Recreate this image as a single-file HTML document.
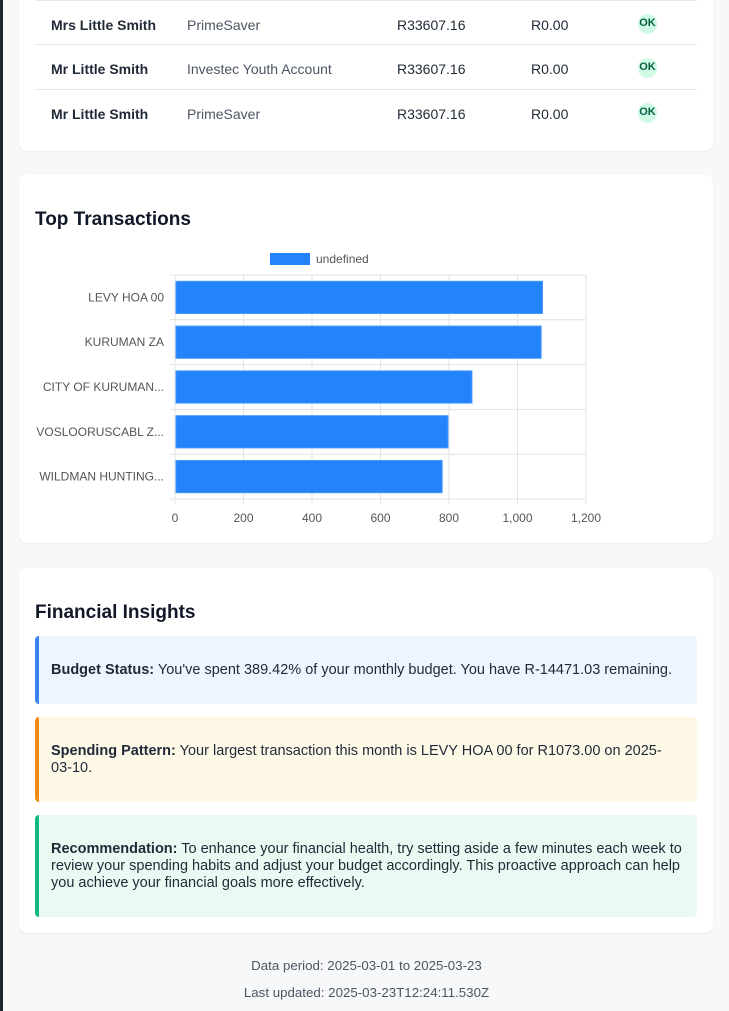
<!DOCTYPE html>
<html><head><meta charset="utf-8">
<style>
*{box-sizing:border-box;margin:0;padding:0}
body{width:729px;height:1011px;background:#f7f8fa;font-family:"Liberation Sans",sans-serif;color:#1f2937;position:relative;overflow:hidden}
.strip{position:absolute;left:0;top:0;width:3px;height:1011px;background:#1e2430}
.card{position:absolute;left:19px;width:694px;background:#fff;border-radius:8px;box-shadow:0 1px 2px rgba(0,0,0,0.06)}
.row{position:absolute;left:16px;width:662px;height:45px;border-bottom:1px solid #e5e7eb;font-size:14px}
.row span{position:absolute;top:16px}
.c1{left:16px;font-weight:bold;color:#1f2937}
.c2{left:152px;color:#4b5563}
.c3{left:362px;color:#1f2937}
.c4{left:496px;color:#1f2937}
.ok{left:603px;top:13px!important;width:19px;height:20px;border-radius:10px;background:#d1fae5;color:#065f46;font-size:11px;font-weight:bold;text-align:center;line-height:18px}
h2{position:absolute;left:16px;font-size:19px;font-weight:bold;color:#111827}
.box{position:absolute;left:16px;width:662px;border-left:4px solid;border-radius:4px;padding:0 12px;font-size:14.5px;line-height:17px;color:#1f2937;display:flex;align-items:center}
.foot{position:absolute;left:0;width:733px;text-align:center;font-size:13.3px;color:#4b5563}
</style></head><body>
<div class="strip"></div>

<div class="card" style="top:-10px;height:161px">
  <div class="row" style="top:10px;border-top:1px solid #e5e7eb"><span class="c1">Mrs Little Smith</span><span class="c2">PrimeSaver</span><span class="c3">R33607.16</span><span class="c4">R0.00</span><span class="ok">OK</span></div>
  <div class="row" style="top:55px"><span class="c1">Mr Little Smith</span><span class="c2">Investec Youth Account</span><span class="c3">R33607.16</span><span class="c4">R0.00</span><span class="ok">OK</span></div>
  <div class="row" style="top:100px;border-bottom:none"><span class="c1">Mr Little Smith</span><span class="c2">PrimeSaver</span><span class="c3">R33607.16</span><span class="c4">R0.00</span><span class="ok">OK</span></div>
</div>

<div class="card" style="top:175px;height:368px">
  <h2 style="top:34px">Top Transactions</h2>
</div>
<svg id="chart" width="729" height="1011" style="position:absolute;left:0;top:0" font-family="Liberation Sans, sans-serif"></svg>

<div class="card" style="top:568px;height:365px">
  <h2 style="top:34px">Financial Insights</h2>
  <div class="box" style="top:68px;height:68px;background:#eef5ff;border-color:#3b82f6"><div><b>Budget Status:</b> You've spent 389.42% of your monthly budget. You have R-14471.03 remaining.</div></div>
  <div class="box" style="top:149px;height:85px;background:#fef8e7;border-color:#f28c18;padding-right:20px"><div><b>Spending Pattern:</b> Your largest transaction this month is LEVY HOA 00 for R1073.00 on 2025-03-10.</div></div>
  <div class="box" style="top:247px;height:102px;background:#e8faf1;border-color:#10b981"><div><b>Recommendation:</b> To enhance your financial health, try setting aside a few minutes each week to review your spending habits and adjust your budget accordingly. This proactive approach can help you achieve your financial goals more effectively.</div></div>
</div>

<div class="foot" style="top:958px">Data period: 2025-03-01 to 2025-03-23</div>
<div class="foot" style="top:985px">Last updated: 2025-03-23T12:24:11.530Z</div>

<script>
const categories = ["LEVY HOA 00","KURUMAN ZA","CITY OF KURUMAN...","VOSLOORUSCABL Z...","WILDMAN HUNTING..."];
const values = [1073, 1069, 867, 797, 780];
const xTicks = [0,200,400,600,800,1000,1200];
const xTickLabels = ["0","200","400","600","800","1,000","1,200"];
const seriesLabel = "undefined";

const svg = document.getElementById('chart');
const NS = 'http://www.w3.org/2000/svg';
const L=175, R=586, T=275, B=499, XMAX=1200;
const x = v => L + (v/XMAX)*(R-L);
const band = (B-T)/categories.length;
const y = i => T + i*band;
function mk(tag, attrs){const e=document.createElementNS(NS,tag);for(const k in attrs)e.setAttribute(k,attrs[k]);svg.appendChild(e);return e;}

xTicks.forEach((t,i)=>{
  const g = mk('line',{x1:x(t),x2:x(t),y1:T,y2:B+5,stroke:'#e3e3e3','stroke-width':1});
  
  
  const tx = mk('text',{x:x(t),y:522,'text-anchor':'middle','font-size':12,fill:'#555'});
  tx.textContent = xTickLabels[i];
  
  
});
for(let i=0;i<=categories.length;i++){
  const g = mk('line',{x1:L-5,x2:R,y1:y(i),y2:y(i),stroke:'#e3e3e3','stroke-width':1});
  
  
}
categories.forEach((c,i)=>{
  const bh = band*0.72;
  const r = mk('rect',{x:L+1,y:y(i)+(band-bh)/2,width:x(values[i])-L-1,height:bh,fill:'#2383fb',stroke:'#4a99fc','stroke-width':1});
  
  
  const t = mk('text',{x:L-11,y:y(i)+band/2+4,'text-anchor':'end','font-size':12,fill:'#555'});
  t.textContent = c;
  
  
});
const lb = mk('rect',{x:270,y:253,width:40,height:12,fill:'#2383fb'});


const lt = mk('text',{x:316,y:263,'font-size':12,fill:'#555'});
lt.textContent = seriesLabel;


</script>
</body></html>
